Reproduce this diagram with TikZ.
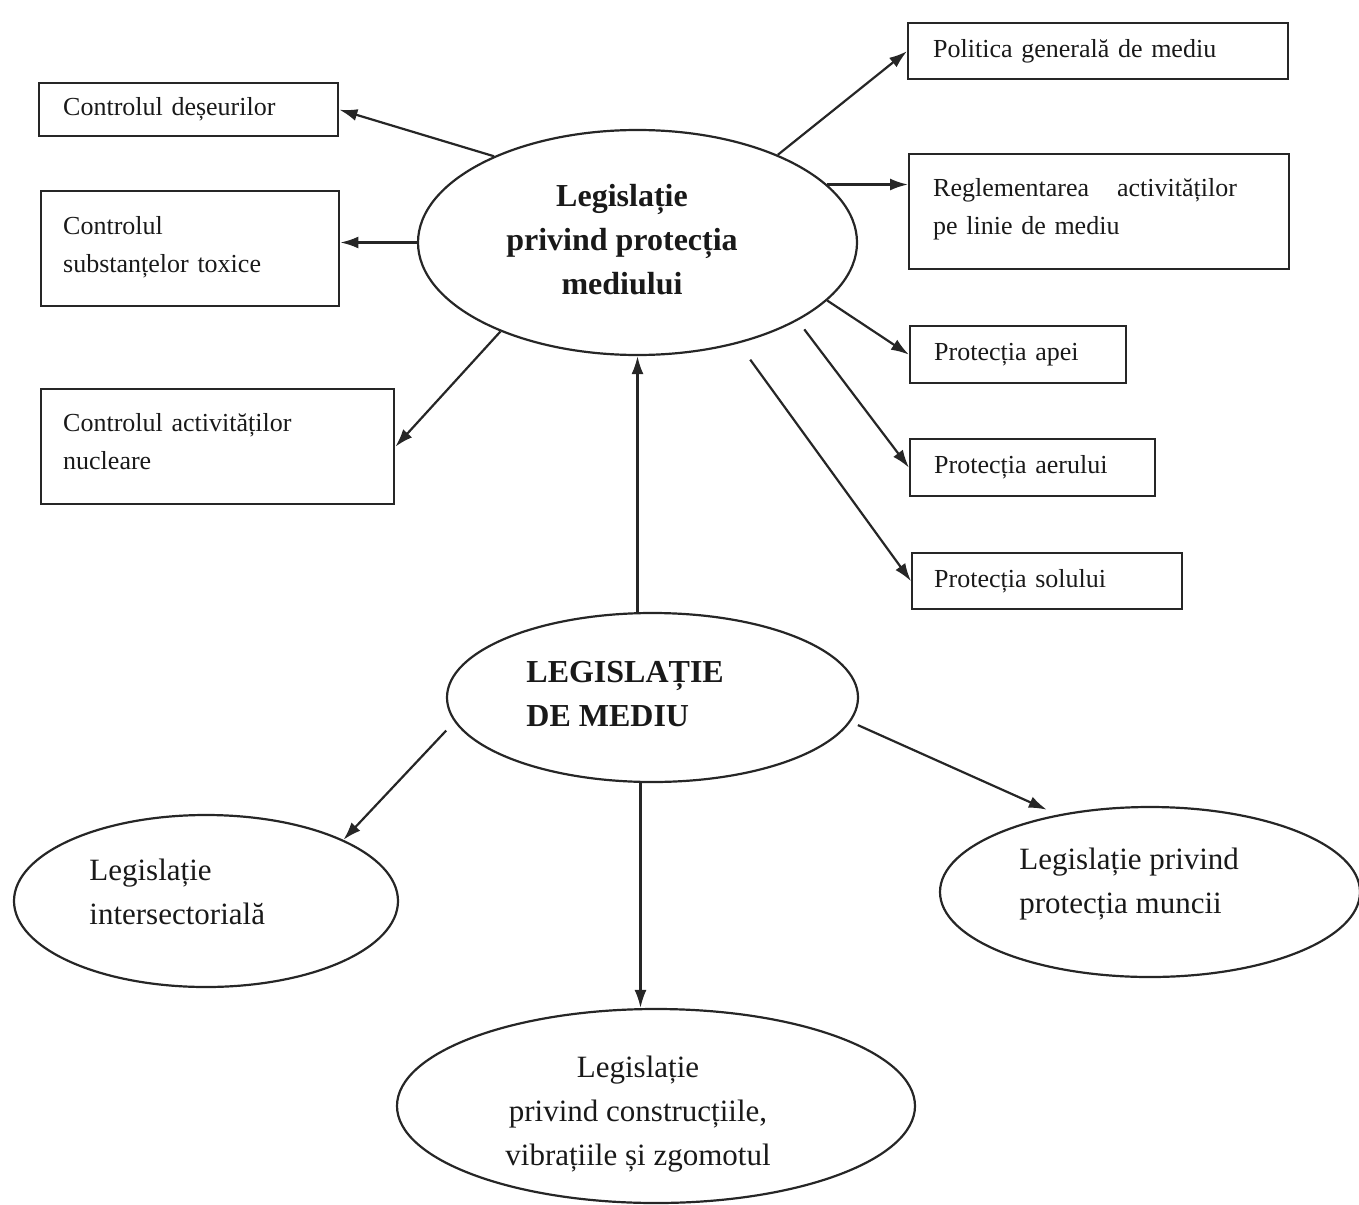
\documentclass[tikz,border=0pt]{standalone}
\usepackage{fontspec}
\setmainfont{Liberation Serif}
\usetikzlibrary{shapes.geometric,arrows.meta}
\begin{document}
\begin{tikzpicture}[x=0.5pt,y=-0.5pt,
  boxnode/.style={draw=black!85, line width=1.2pt, rectangle, anchor=north west, align=left,
    inner ysep=0pt, text=black!90, font=\fontsize{13}{19}\selectfont},
  ell/.style={draw=black!85, line width=1.1pt, ellipse, inner sep=0pt},
  lbl/.style={inner sep=0pt, text=black!90},
  boldtxt/.style={lbl, font=\bfseries\fontsize{16}{22}\selectfont},
  regtxt/.style={lbl, font=\fontsize{15.5}{22}\selectfont},
  arr/.style={draw=black!85, line width=1.1pt, -{Latex[length=9pt,width=6pt]}},
]
\useasboundingbox (0,0) rectangle (1359,1204);

% boxes
\node[boxnode, minimum width=149.5pt, minimum height=26.5pt, text width=125.5pt, inner xsep=12pt] (des) at (38,82) {Controlul deșeurilor};
\node[boxnode, minimum width=149pt, minimum height=57.5pt, text width=127pt, inner xsep=11pt] (sub) at (40,190) {Controlul\\substanțelor toxice\rule[-4pt]{0pt}{0pt}};
\node[boxnode, minimum width=176.5pt, minimum height=57.5pt, text width=154.5pt, inner xsep=11pt] (nuc) at (40,388) {Controlul activităților\\nucleare\rule[-5pt]{0pt}{0pt}};
\node[boxnode, minimum width=190pt, minimum height=28pt, text width=165pt, inner xsep=12.5pt] (pol) at (907,22) {Politica generală de mediu};
\node[boxnode, minimum width=190pt, minimum height=57.5pt, text width=166pt, inner xsep=12pt] (reg) at (908,153) {Reglementarea\hspace{14pt}activităților\\pe linie de mediu\rule[-5pt]{0pt}{0pt}};
\node[boxnode, minimum width=108pt, minimum height=28.5pt, text width=84pt, inner xsep=12pt] (apa) at (909,325) {Protecția apei};
\node[boxnode, minimum width=122.5pt, minimum height=28.5pt, text width=98.5pt, inner xsep=12pt] (aer) at (909,438) {Protecția aerului};
\node[boxnode, minimum width=135pt, minimum height=28pt, text width=113pt, inner xsep=11pt] (sol) at (911,552) {Protecția solului};

% ellipses
\node[ell, minimum width=219.5pt, minimum height=112.5pt] (top) at (637.5,242.5) {};
\node[boldtxt, align=center] (toptxt) at (622,240) {Legislație\\privind protecția\\mediului};
\node[ell, minimum width=205.5pt, minimum height=84.5pt] (dm) at (652.5,697.5) {};
\node[boldtxt, align=left, anchor=west] (dmtxt) at (526,694) {LEGISLAȚIE\\DE MEDIU};
\node[ell, minimum width=192pt, minimum height=86pt] (int) at (206,901) {};
\node[regtxt, align=left, anchor=west] (inttxt) at (89,892) {Legislație\\intersectorială};
\node[ell, minimum width=210pt, minimum height=85pt] (mun) at (1150,892) {};
\node[regtxt, align=left, anchor=west] (muntxt) at (1019,884.5) {Legislație privind\\protecția muncii};
\node[ell, minimum width=259pt, minimum height=97pt] (bot) at (656,1106) {};
\node[regtxt, align=center] (bottxt) at (638,1114) {Legislație\\privind construcțiile,\\vibrațiile și zgomotul};

% connectors
\draw[arr] (top.149) -- (des.east);
\draw[arr] (top.west) -- (top.west -| sub.east);
\draw[arr] (top.213) -- (nuc.east);
\draw[arr] (top.32) -- (pol.west);
\draw[arr] (top.17) -- (top.17 -| reg.west);
\draw[arr] (top.343) -- (apa.west);
\draw[arr, shorten <=5.5pt] (top.334) -- (aer.west);
\draw[arr, shorten <=10pt] (top.315) -- (sol.west);
\draw[arr] (top.south |- dm.north) -- (top.south);
\draw[arr] (dm.262) -- (dm.262 |- bot.north);
\draw[arr, shorten <=6pt] (dm.187.5) -- (int.24);
\draw[arr, shorten <=4pt, shorten >=6pt] (dm.353.6) -- (mun.140.7);
\end{tikzpicture}
\end{document}
